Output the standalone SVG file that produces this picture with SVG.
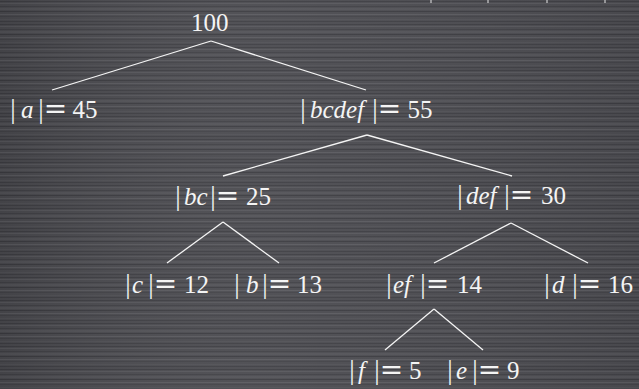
<svg xmlns="http://www.w3.org/2000/svg" width="639" height="389" viewBox="0 0 639 389">
<defs>
<pattern id="stripes" x="0" y="0" width="639" height="23" patternUnits="userSpaceOnUse">
<rect x="0" y="0" width="639" height="23" fill="#4c4c51"/>
<rect x="0" y="1" width="639" height="1" fill="#3f3f44"/>
<rect x="0" y="3" width="639" height="1" fill="#58585d"/>
<rect x="0" y="6" width="639" height="1" fill="#424247"/>
<rect x="0" y="8" width="639" height="2" fill="#545459"/>
<rect x="0" y="11" width="639" height="1" fill="#3d3d42"/>
<rect x="0" y="14" width="639" height="1" fill="#5b5b60"/>
<rect x="0" y="16" width="639" height="1" fill="#444449"/>
<rect x="0" y="19" width="639" height="1" fill="#525257"/>
<rect x="0" y="21" width="639" height="1" fill="#404045"/>
</pattern>
<linearGradient id="shade" x1="0" y1="0" x2="1" y2="0">
<stop offset="0" stop-color="#000" stop-opacity="0.12"/>
<stop offset="0.5" stop-color="#fff" stop-opacity="0.03"/>
<stop offset="1" stop-color="#000" stop-opacity="0.05"/>
</linearGradient>
</defs>
<style>
text{font-family:"Liberation Serif","Times New Roman",serif;font-size:25px;fill:#f4f4f4}
.v{font-style:italic}
.eq{font-family:"DejaVu Serif",serif;font-size:28px}
.bar{font-size:27px}
#connectors line{stroke:#f4f4f4;stroke-width:1.3;fill:none}
.tick{fill:#e8e8e8}
</style>
<rect width="639" height="389" fill="url(#stripes)"/>
<rect width="639" height="389" fill="url(#shade)"/>
<rect class="tick" x="430.5" y="0" width="1" height="3"/>
<rect class="tick" x="487.5" y="0" width="1" height="3"/>
<rect class="tick" x="546.5" y="0" width="1" height="3"/>
<rect class="tick" x="604.5" y="0" width="1" height="3"/>
<g id="connectors">
<line x1="211" y1="41" x2="52" y2="90"/>
<line x1="211" y1="41" x2="366" y2="90"/>
<line x1="367" y1="135" x2="223" y2="176"/>
<line x1="367" y1="135" x2="512" y2="176"/>
<line x1="223" y1="222" x2="167" y2="263"/>
<line x1="223" y1="222" x2="279" y2="263"/>
<line x1="511" y1="223" x2="434" y2="263"/>
<line x1="511" y1="223" x2="588" y2="263"/>
<line x1="434" y1="309" x2="385" y2="350"/>
<line x1="434" y1="309" x2="483" y2="350"/>
</g>
<g id="n-root"><text x="191" y="31">100</text></g>
<g id="n-a"><text y="118"><tspan class="bar" x="10.3">|</tspan><tspan class="v" x="21">a</tspan><tspan class="bar" x="38.3">|</tspan><tspan class="eq" x="43.7">=</tspan><tspan x="72.5">45</tspan></text></g>
<g id="n-bcdef"><text y="118"><tspan class="bar" x="300.3">|</tspan><tspan class="v" x="310">bcdef</tspan><tspan class="bar" x="372.3">|</tspan><tspan class="eq" x="377.7">=</tspan><tspan x="407.5">55</tspan></text></g>
<g id="n-bc"><text y="205"><tspan class="bar" x="175.3">|</tspan><tspan class="v" x="184">bc</tspan><tspan class="bar" x="210.3">|</tspan><tspan class="eq" x="215.7">=</tspan><tspan x="246">25</tspan></text></g>
<g id="n-def"><text y="204"><tspan class="bar" x="457.3">|</tspan><tspan class="v" x="466">def</tspan><tspan class="bar" x="504.3">|</tspan><tspan class="eq" x="509.7">=</tspan><tspan x="541">30</tspan></text></g>
<g id="n-c"><text y="293"><tspan class="bar" x="125.3">|</tspan><tspan class="v" x="132">c</tspan><tspan class="bar" x="148.3">|</tspan><tspan class="eq" x="153.7">=</tspan><tspan x="184">12</tspan></text></g>
<g id="n-b"><text y="293"><tspan class="bar" x="234.3">|</tspan><tspan class="v" x="246">b</tspan><tspan class="bar" x="262.3">|</tspan><tspan class="eq" x="267.7">=</tspan><tspan x="297">13</tspan></text></g>
<g id="n-ef"><text y="293"><tspan class="bar" x="386.3">|</tspan><tspan class="v" x="393">ef</tspan><tspan class="bar" x="420.3">|</tspan><tspan class="eq" x="425.7">=</tspan><tspan x="457">14</tspan></text></g>
<g id="n-d"><text y="293"><tspan class="bar" x="544.3">|</tspan><tspan class="v" x="552">d</tspan><tspan class="bar" x="572.3">|</tspan><tspan class="eq" x="577.7">=</tspan><tspan x="608">16</tspan></text></g>
<g id="n-f"><text y="379"><tspan class="bar" x="349.3">|</tspan><tspan class="v" x="358">f</tspan><tspan class="bar" x="374.3">|</tspan><tspan class="eq" x="379.7">=</tspan><tspan x="409">5</tspan></text></g>
<g id="n-e"><text y="379"><tspan class="bar" x="447.3">|</tspan><tspan class="v" x="456">e</tspan><tspan class="bar" x="472.3">|</tspan><tspan class="eq" x="477.7">=</tspan><tspan x="507">9</tspan></text></g>
</svg>
